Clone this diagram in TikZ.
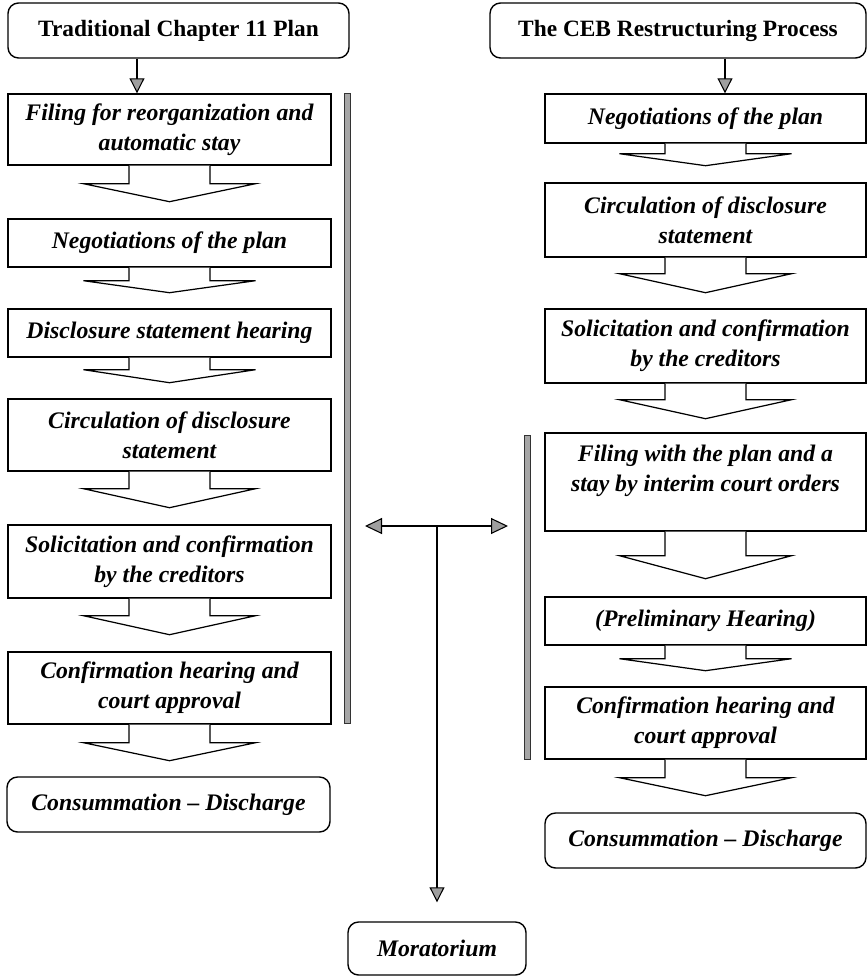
\documentclass[tikz,border=0pt]{standalone}
\usepackage{fontspec}
\setmainfont{Liberation Serif}
\usepackage{tikz}
\usetikzlibrary{arrows.meta,calc}

% open block arrow hanging under a box: #1 box, #2 stem, #3 drop to the tip
\newcommand{\chevron}[3]{%
  \draw [chev] ($(#1.south)+(-0.81,0)$) -- ++(0,-#2) -- ++(-0.91,0)
    -- ++(1.72,-#3) -- ++(1.72,#3) -- ++(-0.91,0) -- ++(0,#2);
}

\begin{document}
\begin{tikzpicture}[
    title/.style={draw, rounded corners=6pt, line width=0.8pt, inner sep=0pt,
      align=center, font=\fontsize{13.3}{16}\selectfont\bfseries},
    stepbox/.style={draw, line width=0.8pt, inner sep=0pt, align=center,
      font=\fontsize{13.5}{17}\selectfont\bfseries\itshape},
    endbox/.style={stepbox, rounded corners=6pt},
    chev/.style={line width=0.7pt, fill=white, line join=miter},
    bar/.style={fill=gray!70, draw=black!80, line width=0.4pt},
    tip/.style={line width=0.6pt, -{Triangle[length=0.3cm, width=0.3cm, fill=gray!75]}},
    twotip/.style={line width=0.6pt, {Triangle[length=0.34cm, width=0.32cm, fill=gray!75]}-{Triangle[length=0.34cm, width=0.32cm, fill=gray!75]}},
    ]
        \useasboundingbox (0,0) rectangle (17.34,-19.52);

        % left column
        \node [title, minimum width=6.82cm, minimum height=1.1cm] (ltitle) at (3.57,-0.61) {Traditional Chapter 11 Plan};
        \node [stepbox, minimum width=6.46cm, minimum height=1.42cm] (lfile) at (3.39,-2.59) {Filing for reorganization and\\automatic stay};
        \node [stepbox, minimum width=6.46cm, minimum height=0.96cm] (lnego) at (3.39,-4.86) {Negotiations of the plan};
        \node [stepbox, minimum width=6.46cm, minimum height=0.96cm] (lhear) at (3.39,-6.66) {Disclosure statement hearing};
        \node [stepbox, minimum width=6.46cm, minimum height=1.44cm] (lcirc) at (3.39,-8.70) {Circulation of disclosure\\statement};
        \node [stepbox, minimum width=6.46cm, minimum height=1.46cm] (lsolic) at (3.39,-11.23) {Solicitation and confirmation\\by the creditors};
        \node [stepbox, minimum width=6.46cm, minimum height=1.44cm] (lconf) at (3.39,-13.76) {Confirmation hearing and\\court approval};
        \node [endbox, minimum width=6.46cm, minimum height=1.1cm] (lcons) at (3.37,-16.09) {Consummation – Discharge};

        % right column
        \node [title, minimum width=7.52cm, minimum height=1.1cm] (rtitle) at (13.56,-0.61) {The CEB Restructuring Process};
        \node [stepbox, minimum width=6.42cm, minimum height=0.98cm] (rnego) at (14.11,-2.37) {Negotiations of the plan};
        \node [stepbox, minimum width=6.42cm, minimum height=1.48cm] (rcirc) at (14.11,-4.40) {Circulation of disclosure\\statement};
        \node [stepbox, minimum width=6.42cm, minimum height=1.48cm] (rsolic) at (14.11,-6.92) {Solicitation and confirmation\\by the creditors};
        \node [stepbox, minimum width=6.42cm, minimum height=1.96cm, text depth=0.55cm] (rfile) at (14.11,-9.64) {Filing with the plan and a\\stay by interim court orders};
        \node [stepbox, minimum width=6.42cm, minimum height=0.96cm] (rprelim) at (14.11,-12.42) {(Preliminary Hearing)};
        \node [stepbox, minimum width=6.42cm, minimum height=1.44cm] (rconf) at (14.11,-14.46) {Confirmation hearing and\\court approval};
        \node [endbox, minimum width=6.42cm, minimum height=1.1cm] (rcons) at (14.11,-16.81) {Consummation – Discharge};

        \node [endbox, minimum width=3.56cm, minimum height=1.06cm] (morat) at (8.74,-18.97) {Moratorium};

        % arrows out of the titles
        \coordinate (ltap) at (2.74,0);
        \coordinate (rtap) at (14.50,0);
        \draw [tip] (ltitle.south -| ltap) -- (lfile.north -| ltap);
        \draw [tip] (rtitle.south -| rtap) -- (rnego.north -| rtap);

        \chevron{lfile}{0.36}{0.36}
        \chevron{lnego}{0.26}{0.24}
        \chevron{lhear}{0.24}{0.26}
        \chevron{lcirc}{0.34}{0.38}
        \chevron{lsolic}{0.34}{0.38}
        \chevron{lconf}{0.36}{0.36}

        \chevron{rnego}{0.20}{0.24}
        \chevron{rcirc}{0.32}{0.38}
        \chevron{rsolic}{0.32}{0.38}
        \chevron{rfile}{0.48}{0.46}
        \chevron{rprelim}{0.26}{0.24}
        \chevron{rconf}{0.36}{0.36}

        % court phases
        \filldraw [bar] (6.88,-1.86) rectangle (7.00,-14.46);
        \filldraw [bar] (10.48,-8.70) rectangle (10.60,-15.18);

        % moratorium
        \coordinate (lend) at (7.30,-10.52);
        \coordinate (rend) at (10.16,-10.52);
        \coordinate (split) at (8.74,-10.52);
        \draw [twotip] (lend) -- (rend);
        \draw [tip, shorten >=0.38cm] (split) -- (morat.north);
    \end{tikzpicture}
\end{document}
